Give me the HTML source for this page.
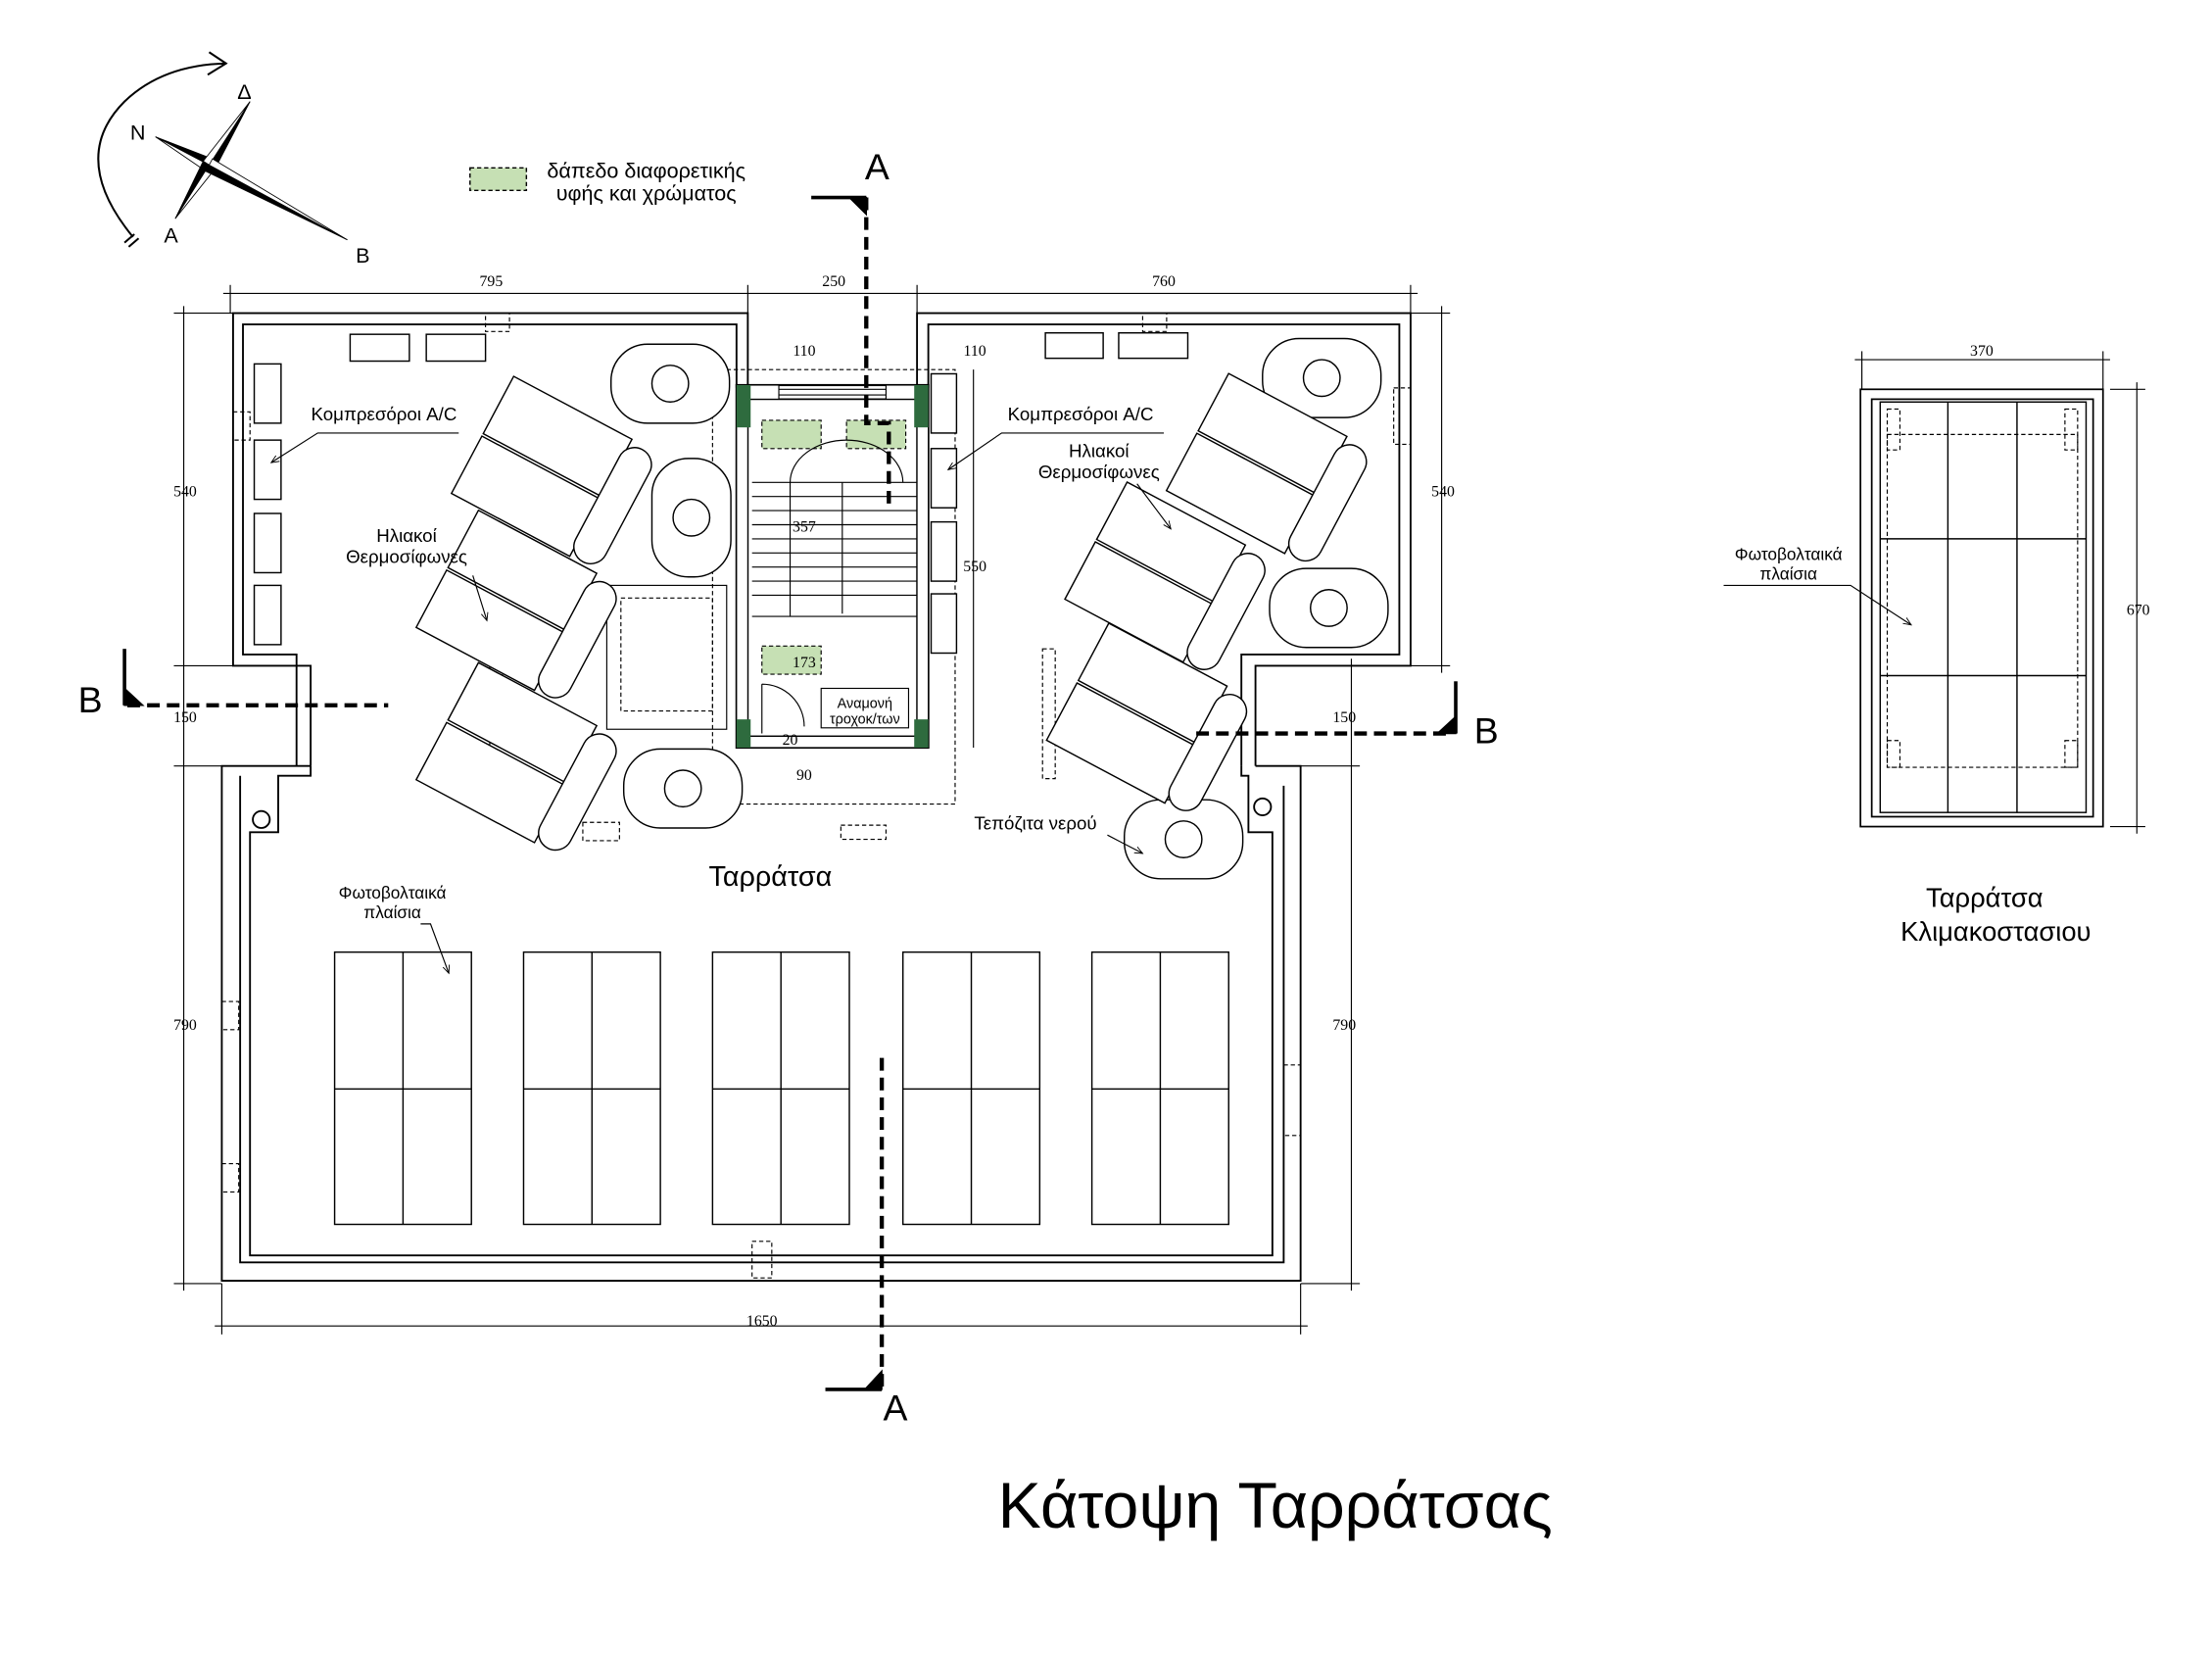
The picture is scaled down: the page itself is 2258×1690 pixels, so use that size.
<!DOCTYPE html>
<html><head><meta charset="utf-8"><style>html,body{margin:0;padding:0;background:#fff}svg{display:block}</style></head>
<body>
<svg width="2258" height="1690" viewBox="0 0 1568 1174" xmlns="http://www.w3.org/2000/svg" font-family="Liberation Sans, DejaVu Sans, sans-serif">
<defs>
<g id="therm">
  <rect x="-55" y="-48" width="95" height="46" fill="#fff" stroke="#000" stroke-width="1"/>
  <rect x="-55" y="0" width="95" height="46" fill="#fff" stroke="#000" stroke-width="1"/>
  <rect x="38" y="-45" width="24" height="90" rx="12" fill="#fff" stroke="#000" stroke-width="1"/>
</g>
<g id="tank">
  <rect x="-42" y="-28" width="84" height="56" rx="26" fill="#fff" stroke="#000" stroke-width="1"/>
  <circle cx="0" cy="0" r="13" fill="none" stroke="#000" stroke-width="1"/>
</g>
<g id="pv">
  <rect x="0" y="0" width="97" height="193" fill="#fff" stroke="#000" stroke-width="1"/>
  <line x1="48.5" y1="0" x2="48.5" y2="193" stroke="#000" stroke-width="1"/>
  <line x1="0" y1="97" x2="97" y2="97" stroke="#000" stroke-width="1"/>
</g>
<marker id="ar" markerWidth="8" markerHeight="8" refX="7" refY="4" orient="auto"><path d="M0,1 L7,4 L0,7" fill="none" stroke="#000" stroke-width="0.8"/></marker>
</defs>
<!-- compass -->
<g fill="none" stroke="#000" stroke-width="1.4">
<path d="M94,168 Q48,112 88,72 Q115,46 160,45"/>
<path d="M148,37 L160,45 L147,53"/>
<line x1="88" y1="172" x2="95" y2="166"/><line x1="91" y1="175" x2="98" y2="169"/>
</g>
<g stroke="#000" stroke-width="0.6">
<path d="M110,97 L150.3,112.6 L148,117 Z" fill="#000"/>
<path d="M110,97 L145.7,121.4 L148,117 Z" fill="#fff"/>
<path d="M177,72 L152.2,119.7 L148,117 Z" fill="#000"/>
<path d="M177,72 L143.8,114.3 L148,117 Z" fill="#fff"/>
<path d="M124,155 L143.8,114.3 L148,117 Z" fill="#000"/>
<path d="M124,155 L152.2,119.7 L148,117 Z" fill="#fff"/>
<path d="M246,170 L145.6,121.4 L148,117 Z" fill="#000"/>
<path d="M246,170 L150.4,112.6 L148,117 Z" fill="#fff"/>
</g>
<g font-size="15" fill="#000">
<text x="92" y="99">N</text><text x="168" y="70">Δ</text><text x="116" y="172">A</text><text x="252" y="186">B</text>
</g>
<!-- legend -->
<rect x="333" y="119" width="40" height="16" fill="#c6e0b4" stroke="#000" stroke-dasharray="3,2"/>
<text x="458" y="126" font-size="15" text-anchor="middle">δάπεδο διαφορετικής</text>
<text x="458" y="142" font-size="15" text-anchor="middle">υφής και χρώματος</text>

<g fill="none" stroke="#000" stroke-width="1.3">
<path d="M530,275 V222 H165 V472 H220 V543"/>
<path d="M522,275 V230 H172 V464 H210 V543"/>
<path d="M650,275 V222 H1000 V472 H890 V543"/>
<path d="M658,275 V230 H992 V464 H880 V543"/>
<path d="M220,543 V550 H197 V590 H177 V890 H902 V590 H885 V550 H880 V543"/>
<path d="M220,543 H157 V908 H922 V543 H890"/>
<path d="M170,550 V895 H910 V557"/>
<circle cx="185" cy="581" r="6"/><circle cx="895" cy="572" r="6"/>
</g>
<g fill="none" stroke="#000" stroke-width="0.8" stroke-dasharray="3,2">
<rect x="344" y="222" width="17" height="13"/><rect x="810" y="222" width="17" height="13"/>
<rect x="165" y="292" width="12" height="20"/><rect x="988" y="275" width="12" height="40"/>
<rect x="157" y="710" width="12" height="20"/><rect x="157" y="825" width="12" height="20"/>
<rect x="910" y="755" width="12" height="50"/>
<rect x="533" y="880" width="14" height="26"/>
<rect x="413" y="583" width="26" height="13"/><rect x="596" y="585" width="32" height="10"/>
<rect x="535" y="690" width="12" height="20"/>
<rect x="347" y="462" width="9" height="92"/><rect x="739" y="460" width="9" height="92"/>
<rect x="505" y="262" width="172" height="308"/>
<rect x="440" y="424" width="65" height="80"/>
<rect x="430" y="415" width="85" height="102" stroke-dasharray="none"/>
</g>
<g stroke="#000" fill="none">
<rect x="522" y="273" width="136" height="257" stroke-width="1.5"/>
<rect x="530" y="283" width="120" height="239" stroke-width="1.2"/>
<rect x="522" y="273" width="8" height="257" fill="#fff" stroke-width="0.8"/>
<rect x="650" y="273" width="8" height="257" fill="#fff" stroke-width="0.8"/>
<rect x="530" y="273" width="22" height="10" fill="#fff" stroke-width="0.8"/>
<rect x="628" y="273" width="22" height="10" fill="#fff" stroke-width="0.8"/>
<rect x="530" y="522" width="120" height="8" fill="#fff" stroke-width="0.8"/>
<line x1="552" y1="276" x2="628" y2="276" stroke-width="0.8"/><line x1="552" y1="280" x2="628" y2="280" stroke-width="0.8"/>
</g>
<g fill="#2e6b3e"><rect x="522" y="273" width="10" height="30"/><rect x="648" y="273" width="10" height="30"/><rect x="522" y="510" width="10" height="20"/><rect x="648" y="510" width="10" height="20"/></g>
<rect x="540" y="298" width="42" height="20" fill="#c6e0b4" stroke="#000" stroke-width="0.8" stroke-dasharray="3,2"/>
<rect x="600" y="298" width="42" height="20" fill="#c6e0b4" stroke="#000" stroke-width="0.8" stroke-dasharray="3,2"/>
<rect x="540" y="458" width="42" height="20" fill="#c6e0b4" stroke="#000" stroke-width="0.8" stroke-dasharray="3,2"/>
<g stroke="#000" stroke-width="0.8" fill="none">
<path d="M560,342 A40,30 0 0 1 640,342"/>
<line x1="533" y1="342" x2="650" y2="342"/>
<line x1="597" y1="342" x2="597" y2="435"/>
<line x1="533" y1="437" x2="650" y2="437"/>
<path d="M560,342 V437"/>
<line x1="533" y1="352" x2="650" y2="352"/><line x1="533" y1="362" x2="650" y2="362"/><line x1="533" y1="372" x2="650" y2="372"/><line x1="533" y1="382" x2="650" y2="382"/><line x1="533" y1="392" x2="650" y2="392"/><line x1="533" y1="402" x2="650" y2="402"/><line x1="533" y1="412" x2="650" y2="412"/><line x1="533" y1="422" x2="650" y2="422"/>
<path d="M540,485 A30,30 0 0 1 570,515 M540,485 V520"/>
<rect x="582" y="488" width="62" height="28"/>
</g>
<g fill="#fff" stroke="#000" stroke-width="1">
<rect x="180" y="258" width="19" height="42"/><rect x="180" y="312" width="19" height="42"/><rect x="180" y="364" width="19" height="42"/><rect x="180" y="415" width="19" height="42"/>
<rect x="248" y="237" width="42" height="19"/><rect x="302" y="237" width="42" height="19"/>
<rect x="660" y="265" width="18" height="42"/><rect x="660" y="318" width="18" height="42"/><rect x="660" y="370" width="18" height="42"/><rect x="660" y="421" width="18" height="42"/>
<rect x="741" y="236" width="41" height="18"/><rect x="793" y="236" width="49" height="18"/>
</g>
<use href="#tank" x="475" y="272"/>
<g transform="translate(490,367) rotate(90)"><use href="#tank"/></g>
<use href="#tank" x="484" y="559"/>
<use href="#tank" x="937" y="268"/>
<use href="#tank" x="942" y="431"/>
<use href="#tank" x="839" y="595"/>
<g transform="translate(390,335) rotate(28)"><use href="#therm"/></g>
<g transform="translate(365,430) rotate(28)"><use href="#therm"/></g>
<g transform="translate(365,538) rotate(28)"><use href="#therm"/></g>
<g transform="translate(897,333) rotate(28)"><use href="#therm"/></g>
<g transform="translate(825,410) rotate(28)"><use href="#therm"/></g>
<g transform="translate(812,510) rotate(28)"><use href="#therm"/></g>
<use href="#pv" x="237" y="675"/><use href="#pv" x="371" y="675"/><use href="#pv" x="505" y="675"/><use href="#pv" x="640" y="675"/><use href="#pv" x="774" y="675"/>
<g stroke="#000" stroke-width="0.8" fill="none">
<line x1="158" y1="208" x2="1005" y2="208"/>
<line x1="163" y1="202" x2="163" y2="222"/><line x1="530" y1="202" x2="530" y2="222"/><line x1="650" y1="202" x2="650" y2="222"/><line x1="1000" y1="202" x2="1000" y2="222"/>
<line x1="130" y1="217" x2="130" y2="915"/>
<line x1="123" y1="222" x2="165" y2="222"/><line x1="123" y1="472" x2="165" y2="472"/><line x1="123" y1="543" x2="157" y2="543"/><line x1="123" y1="910" x2="157" y2="910"/>
<line x1="1022" y1="217" x2="1022" y2="477"/><line x1="1000" y1="222" x2="1028" y2="222"/><line x1="1000" y1="472" x2="1028" y2="472"/>
<line x1="958" y1="467" x2="958" y2="915"/><line x1="922" y1="472" x2="964" y2="472"/><line x1="922" y1="543" x2="964" y2="543"/><line x1="922" y1="910" x2="964" y2="910"/>
<line x1="152" y1="940" x2="927" y2="940"/><line x1="157" y1="910" x2="157" y2="946"/><line x1="922" y1="910" x2="922" y2="946"/>
<line x1="690" y1="262" x2="690" y2="530"/>
<path d="M325,307 H225 L192,328" marker-end="url(#ar)"/><path d="M335,408 L345,440" marker-end="url(#ar)"/>
<path d="M825,307 H710 L672,333" marker-end="url(#ar)"/><path d="M806,343 L830,375" marker-end="url(#ar)"/>
<path d="M298,655 H305 L318,690" marker-end="url(#ar)"/><path d="M785,592 L810,605" marker-end="url(#ar)"/>
<path d="M1222,415 H1312 L1355,443" marker-end="url(#ar)"/>
</g>
<g font-family="Liberation Serif, serif" font-size="11" fill="#000" text-anchor="middle">
<text x="348" y="203">795</text><text x="591" y="203">250</text><text x="825" y="203">760</text>
<text x="131" y="352">540</text><text x="131" y="512">150</text><text x="131" y="730">790</text>
<text x="1023" y="352">540</text><text x="953" y="512">150</text><text x="953" y="730">790</text>
<text x="540" y="940">1650</text>
<text x="570" y="252">110</text><text x="691" y="252">110</text><text x="691" y="405">550</text>
<text x="570" y="377">357</text><text x="570" y="473">173</text><text x="560" y="528">20</text><text x="570" y="553">90</text>
<text x="1405" y="252">370</text><text x="1516" y="436">670</text>
</g>
<g font-size="13" fill="#000" text-anchor="middle">
<text x="272" y="298">Κομπρεσόροι A/C</text>
<text x="288" y="384">Ηλιακοί</text><text x="288" y="399">Θερμοσίφωνες</text>
<text x="766" y="298">Κομπρεσόροι A/C</text>
<text x="779" y="324">Ηλιακοί</text><text x="779" y="339">Θερμοσίφωνες</text>
<text x="734" y="588">Τεπόζιτα νερού</text>
<text x="278" y="637" font-size="12">Φωτοβολταικά</text><text x="278" y="651" font-size="12">πλαίσια</text>
<text x="1268" y="397" font-size="12">Φωτοβολταικά</text><text x="1268" y="411" font-size="12">πλαίσια</text>
<text x="613" y="502" font-size="10">Αναμονή</text><text x="613" y="513" font-size="10">τροχοκ/των</text>
</g>
<text x="546" y="628" font-size="20" text-anchor="middle">Ταρράτσα</text>
<text x="1407" y="643" font-size="19" text-anchor="middle">Ταρράτσα</text>
<text x="1415" y="667" font-size="19" text-anchor="middle">Κλιμακοστασιου</text>
<text x="904" y="1083" font-size="46" text-anchor="middle">Κάτοψη Ταρράτσας</text>
<g fill="none" stroke="#000" stroke-width="1.2">
<rect x="1319" y="276" width="172" height="310"/>
<rect x="1327" y="283" width="157" height="296"/>
<rect x="1333" y="285" width="146" height="291" stroke-width="1"/>
<line x1="1381" y1="285" x2="1381" y2="576" stroke-width="1"/><line x1="1430" y1="285" x2="1430" y2="576" stroke-width="1"/>
<line x1="1333" y1="382" x2="1479" y2="382" stroke-width="1"/><line x1="1333" y1="479" x2="1479" y2="479" stroke-width="1"/>
<g stroke-width="0.8" stroke-dasharray="3,2">
<rect x="1338" y="308" width="135" height="236"/>
<rect x="1338" y="290" width="9" height="29"/><rect x="1464" y="290" width="9" height="29"/>
<rect x="1338" y="525" width="9" height="19"/><rect x="1464" y="525" width="9" height="19"/>
</g>
<line x1="1315" y1="255" x2="1496" y2="255" stroke-width="0.8"/><line x1="1320" y1="249" x2="1320" y2="276" stroke-width="0.8"/><line x1="1491" y1="249" x2="1491" y2="276" stroke-width="0.8"/>
<line x1="1515" y1="271" x2="1515" y2="591" stroke-width="0.8"/><line x1="1496" y1="276" x2="1521" y2="276" stroke-width="0.8"/><line x1="1496" y1="586" x2="1521" y2="586" stroke-width="0.8"/>
</g>
<g stroke="#000" stroke-width="3" fill="none" stroke-dasharray="9,5">
<path d="M614,140 V300 H630 V360"/>
<line x1="625" y1="750" x2="625" y2="985"/>
<line x1="90" y1="500" x2="275" y2="500"/>
<line x1="848" y1="520" x2="1030" y2="520"/>
</g>
<g stroke="#000" stroke-width="2.5" fill="none">
<line x1="575" y1="140" x2="614" y2="140"/><path d="M602,140 L614,140 L614,152 Z" fill="#000" stroke-width="1"/>
<line x1="585" y1="985" x2="625" y2="985"/><path d="M613,985 L625,985 L625,972 Z" fill="#000" stroke-width="1"/>
<line x1="88" y1="460" x2="88" y2="500"/><path d="M88,488 L88,500 L101,500 Z" fill="#000" stroke-width="1"/>
<line x1="1032" y1="483" x2="1032" y2="520"/><path d="M1032,508 L1032,520 L1019,520 Z" fill="#000" stroke-width="1"/>
</g>
<g font-size="26" fill="#000">
<text x="613" y="127">A</text><text x="626" y="1007">A</text><text x="55" y="505">B</text><text x="1045" y="527">B</text>
</g>
</svg>
</body></html>
